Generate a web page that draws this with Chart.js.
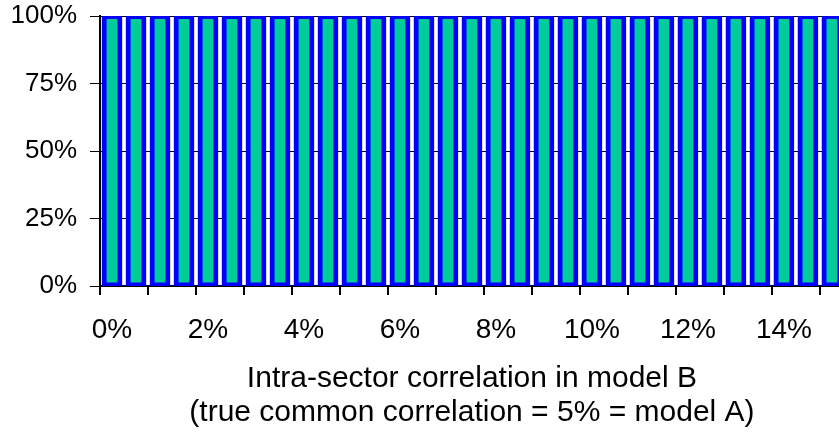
<!DOCTYPE html>
<html>
<head>
<meta charset="utf-8">
<script src="https://cdn.jsdelivr.net/npm/chart.js@4"></script>
<style>
  html, body { margin: 0; padding: 0; background: #fff; overflow: hidden; }
  #wrap { position: relative; width: 850px; height: 436px; }
</style>
</head>
<body>
<div id="wrap"><canvas id="chartCanvas"></canvas></div>
<script>
"use strict";

// intra-sector correlation in model B (categories, 0.5% steps)
const categories = [
    '0%', '0.5%', '1%', '1.5%', '2%', '2.5%', '3%', '3.5%',
    '4%', '4.5%', '5%', '5.5%', '6%', '6.5%', '7%', '7.5%',
    '8%', '8.5%', '9%', '9.5%', '10%', '10.5%', '11%', '11.5%',
    '12%', '12.5%', '13%', '13.5%', '14%', '14.5%', '15%'
];

// share, in %
const shareValues = [
    100, 100, 100, 100, 100, 100, 100, 100,
    100, 100, 100, 100, 100, 100, 100, 100,
    100, 100, 100, 100, 100, 100, 100, 100,
    100, 100, 100, 100, 100, 100, 100
];

const yTickValues = [0, 25, 50, 75, 100];

const axisTitle = [
    'Intra-sector correlation in model B',
    '(true common correlation = 5% = model A)'
];

const fontFamily = '"Liberation Sans", Arial, sans-serif';

const ctx = document.getElementById('chartCanvas');

new Chart(ctx, {
    type: 'bar',
    data: {
        labels: categories,
        datasets: [{
            data: shareValues,
            backgroundColor: '#00CC99',
            borderColor: '#0000FF',
            borderWidth: 5,
            borderSkipped: false,
            inflateAmount: 2,
            barPercentage: 0.7,
            categoryPercentage: 1.0
        }]
    },
    options: {
        responsive: true,
        maintainAspectRatio: false,
        animation: false,
        layout: {
            padding: { top: 16, right: 6, bottom: 6, left: 3 }
        },
        plugins: {
            legend: { display: false },
            tooltip: { enabled: false }
        },
        scales: {
            x: {
                offset: true,
                afterFit: (axis) => {
                    axis.height = 144;
                },
                grid: {
                    offset: true,
                    drawOnChartArea: false,
                    tickLength: 9,
                    lineWidth: 2,
                    color: (c) => (c.index % 2 === 0 ? '#000' : 'rgba(0,0,0,0)')
                },
                border: { color: '#000', width: 2 },
                ticks: {
                    autoSkip: false,
                    maxRotation: 0,
                    padding: 18,
                    color: '#000',
                    font: { family: fontFamily, size: 28 },
                    callback: function (value, index) {
                        return index % 4 === 0 ? this.getLabelForValue(value) : '';
                    }
                },
                title: {
                    display: true,
                    text: axisTitle,
                    color: '#000',
                    font: { family: fontFamily, size: 30, lineHeight: 1.13 },
                    padding: { top: 3, bottom: 0 }
                }
            },
            y: {
                min: 0,
                max: 100,
                afterBuildTicks: (axis) => {
                    axis.ticks = yTickValues.map(v => ({ value: v }));
                },
                afterFit: (axis) => {
                    axis.width = 97;
                    axis.paddingTop = 0;
                    axis.paddingBottom = 0;
                },
                grid: {
                    color: '#000',
                    lineWidth: 1,
                    tickLength: 10,
                    drawTicks: true
                },
                border: { color: '#000', width: 2 },
                ticks: {
                    padding: 13,
                    color: '#000',
                    font: { family: fontFamily, size: 26 },
                    callback: (v) => v + '%'
                }
            }
        }
    }
});
</script>
</body>
</html>
